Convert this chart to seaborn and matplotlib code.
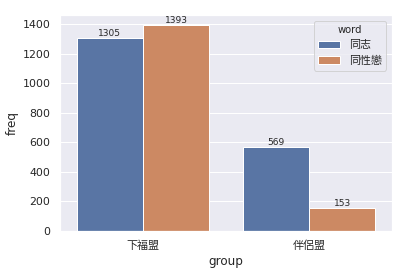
import matplotlib
matplotlib.use("Agg")
import matplotlib.pyplot as plt
import seaborn as sns
import pandas as pd

groups = ["下福盟", "下福盟", "伴侶盟", "伴侶盟"]
words = ["同志", "同性戀", "同志", "同性戀"]
freqs = [1305, 1393, 569, 153]

df = pd.DataFrame({"group": groups, "word": words, "freq": freqs})

sns.set_theme()
plt.rcParams['font.family'] = ['DejaVu Sans', 'Noto Sans CJK TC']

fig = plt.figure(figsize=(407/72, 276/72), dpi=72)
ax = fig.add_axes([60/407, 1-231/276, 332/407, 216/276])
sns.barplot(data=df, x="group", y="freq", hue="word", ax=ax)
for c in ax.containers:
    ax.bar_label(c, fontsize=9)
leg = ax.get_legend()
leg.set_title("word", prop={"size": 10})
fig.savefig("out.png", dpi=72)
